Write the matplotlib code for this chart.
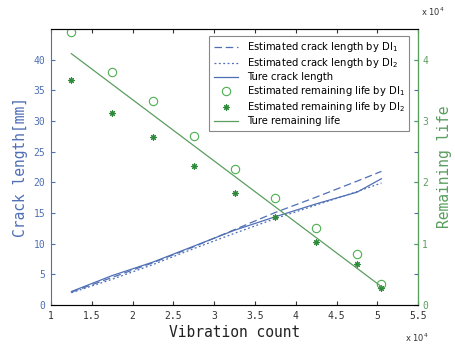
import numpy as np
import matplotlib.pyplot as plt
from matplotlib.ticker import FuncFormatter

# vibration count at each inspection
count = [12500, 17500, 22500, 27500, 32500, 37500, 42500, 47500, 50500]

# crack length [mm]
crack_di1 = [2.1, 4.5, 6.9, 9.5, 12.3, 15.1, 17.6, 20.2, 21.8]
crack_di2 = [2.0, 4.2, 6.6, 9.2, 11.7, 14.1, 16.3, 18.5, 19.9]
crack_true = [2.2, 4.8, 7.0, 9.6, 12.2, 14.4, 16.5, 18.4, 20.6]

# remaining life
life_di1 = [44500, 38000, 33300, 27500, 22200, 17400, 12500, 8300, 3400]
life_di2 = [36700, 31300, 27400, 22700, 18300, 14400, 10300, 6700, 2800]
life_true = [41000, 36000, 31000, 26000, 21000, 16000, 11000, 6000, 3000]

blue = '#4f6fb5'
green = '#5a9e5e'
dkgreen = '#2f8a3c'
mono = 'DejaVu Sans Mono'

fig = plt.figure(figsize=(4.55, 3.47), dpi=100)
ax = fig.add_axes([0.112, 0.121, 0.807, 0.795])
ax2 = ax.twinx()

l1, = ax.plot(count, crack_di1, color=blue, lw=0.9, ls=(0, (6, 3)))
l2, = ax.plot(count, crack_di2, color=blue, lw=0.9, ls=(0, (1.5, 2)))
l3, = ax.plot(count, crack_true, color=blue, lw=0.9)

p1, = ax2.plot(count, life_di1, ls='none', marker='o', ms=6, mfc='none',
               mec='#4caf50', mew=0.8)
p2, = ax2.plot(count, life_di2, ls='none', marker=(8, 2, 0), ms=4.5,
               mec=dkgreen, mew=0.8)
p3, = ax2.plot(count, life_true, color=green, lw=0.9)

ax.set_xlim(10000, 55000)
ax.set_ylim(0, 45)
ax2.set_ylim(0, 45000)
ax.set_xticks(np.arange(10000, 55001, 5000))
ax.set_yticks(np.arange(0, 41, 5))
ax2.set_yticks(np.arange(0, 40001, 10000))
ax.xaxis.set_major_formatter(FuncFormatter(lambda v, p: '%g' % (v / 1e4)))
ax2.yaxis.set_major_formatter(FuncFormatter(lambda v, p: '%g' % (v / 1e4)))

ax.tick_params(axis='x', direction='in', top=True, length=3, labelsize=7,
               colors='#333333', pad=4)
ax.tick_params(axis='y', direction='in', right=True, length=3, labelsize=7,
               colors=blue, pad=4)
ax2.tick_params(axis='y', direction='in', length=3, labelsize=7,
                colors=green, pad=3)
for t in ax.get_xticklabels() + ax.get_yticklabels() + ax2.get_yticklabels():
    t.set_family(mono)

ax.spines['left'].set_color(blue)
ax.spines['bottom'].set_color('#666666')
ax.spines['top'].set_color('#666666')
ax2.spines['right'].set_color(green)
ax2.spines['left'].set_visible(False)
for s in ax.spines.values():
    s.set_linewidth(0.8)
ax2.spines['right'].set_linewidth(0.8)

ax.set_xlabel('Vibration count', family=mono, fontsize=10.5, color='#222222',
              labelpad=3)
ax.set_ylabel('Crack length[mm]', family=mono, fontsize=10.5, color=blue,
              labelpad=4)
ax2.set_ylabel('Remaining life', family=mono, fontsize=10.5, color=green,
               labelpad=6)

fig.text(0.925, 0.955, r'x 10$^4$', fontsize=6, color='#333333')
fig.text(0.89, 0.015, r'x 10$^4$', fontsize=6, color='#333333')

leg = ax2.legend([l1, l2, l3, p1, p2, p3],
                 [r'Estimated crack length by DI$_1$',
                  r'Estimated crack length by DI$_2$',
                  'Ture crack length',
                  r'Estimated remaining life by DI$_1$',
                  r'Estimated remaining life by DI$_2$',
                  'Ture remaining life'],
                 loc='upper right', bbox_to_anchor=(0.99, 0.995),
                 fontsize=7.2, fancybox=False, framealpha=1,
                 edgecolor='#888888', handlelength=2.4, labelspacing=0.2,
                 borderpad=0.45, handletextpad=0.9)
leg.get_frame().set_linewidth(0.8)

plt.savefig('out.png', dpi=100)
